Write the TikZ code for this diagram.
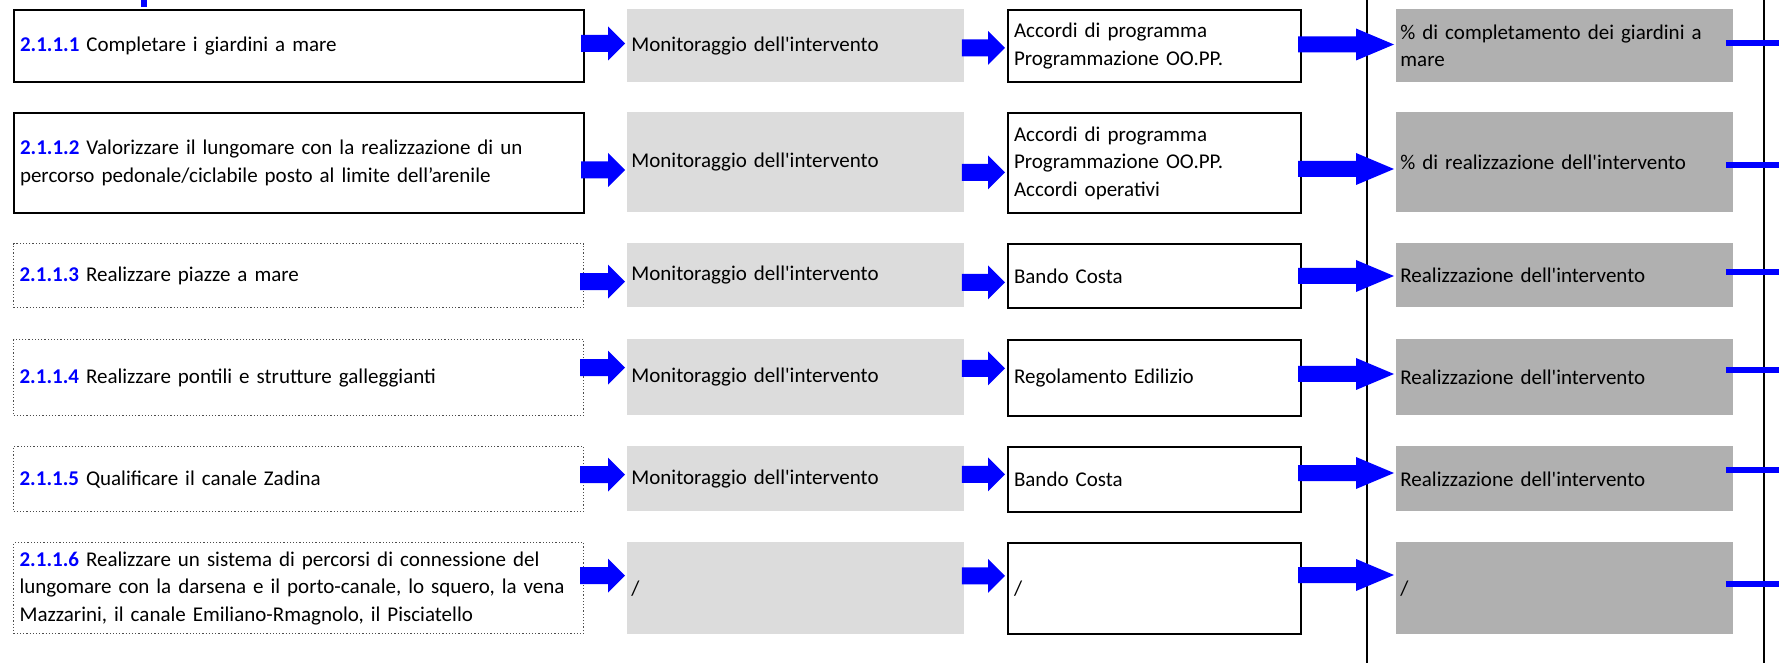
\documentclass[tikz,border=0pt]{standalone}
\usepackage{fontspec}
\newfontfamily\calib{Carlito}
\usepackage{tikz}
\usetikzlibrary{calc,positioning}
\definecolor{actgray}{RGB}{220,220,220}
\definecolor{indgray}{RGB}{176,176,176}
\newcommand{\objnum}[1]{\textcolor{blue}{\textbf{#1}}}

\begin{document}
\begin{tikzpicture}[x=0.5pt, y=-0.5pt,
  every node/.style={font=\calib\fontsize{10.5}{13.75}\selectfont, inner ysep=0pt, align=left, anchor=north west},
  goal/.style={text width=279pt, inner xsep=3pt},
  goalsolid/.style={goal, draw, line width=1pt},
  goaldot/.style={goal, draw=black!70, densely dotted, line width=0.6pt},
  act/.style={fill=actgray, text width=164.5pt, inner xsep=2pt},
  tool/.style={draw, line width=1pt, text width=140.5pt, inner xsep=3pt},
  ind/.style={fill=indgray, text width=164.5pt, inner xsep=2pt},
  % block arrow: half shaft, half head, head length
  blockto/.style n args={3}{to path={let \p1=(\tikztostart), \p2=(\tikztotarget) in
    (\x1,\y1+#1) -- (\x2-#3,\y1+#1) -- (\x2-#3,\y1+#2) -- (\x2,\y1)
    -- (\x2-#3,\y1-#2) -- (\x2-#3,\y1-#1) -- (\x1,\y1-#1) -- cycle}},
  arrow/.style={fill=blue, blockto={4.25pt}{8.5pt}{8.5pt}},
  longarrow/.style={fill=blue, blockto={4pt}{8pt}{19pt}},
  stub/.style={blue, line width=3pt},
  sep/.style={line width=1pt}
]
\useasboundingbox (0,0) rectangle (1779,663);

% column separators
\draw[sep] (1367,0) -- (1367,663);
\draw[sep] (1764,0) -- (1764,663);
\fill[blue] (141,0) rectangle (147,7);

% objectives
\node[goalsolid, minimum height=36pt] (g1) at (13,9) {\objnum{2.1.1.1} Completare i giardini a mare};
\node[goalsolid, minimum height=50pt] (g2) at (13,112) {\objnum{2.1.1.2} Valorizzare il lungomare con la realizzazione di un\\percorso pedonale/ciclabile posto al limite dell’arenile};
\node[goaldot, minimum height=32pt] (g3) at (13,243) {\objnum{2.1.1.3} Realizzare piazze a mare};
\node[goaldot, minimum height=38pt] (g4) at (13,339) {\objnum{2.1.1.4} Realizzare pontili e strutture galleggianti};
\node[goaldot, minimum height=32.5pt] (g5) at (13,446) {\objnum{2.1.1.5} Qualificare il canale Zadina};
\node[goaldot, minimum height=45.5pt] (g6) at (13,542) {\objnum{2.1.1.6} Realizzare un sistema di percorsi di connessione del\\lungomare con la darsena e il porto-canale, lo squero, la vena\\Mazzarini, il canale Emiliano-Rmagnolo, il Pisciatello};

% monitoring
\node[act, minimum height=36.5pt] (m1) at (627,9) {Monitoraggio dell'intervento};
\node[act, minimum height=50pt] (m2) at (627,112) {Monitoraggio dell'intervento};
\node[act, minimum height=32pt] (m3) at (627,243) {Monitoraggio dell'intervento};
\node[act, minimum height=38pt] (m4) at (627,339) {Monitoraggio dell'intervento};
\node[act, minimum height=32.5pt] (m5) at (627,446) {Monitoraggio dell'intervento};
\node[act, minimum height=46pt] (m6) at (627,542) {/};

% tools
\node[tool, minimum height=36pt] (t1) at (1007,9) {Accordi di programma\\Programmazione OO.PP.};
\node[tool, minimum height=50pt] (t2) at (1007,112) {Accordi di programma\\Programmazione OO.PP.\\Accordi operativi};
\node[tool, minimum height=32pt] (t3) at (1007,243) {Bando Costa};
\node[tool, minimum height=38pt] (t4) at (1007,339) {Regolamento Edilizio};
\node[tool, minimum height=32.5pt] (t5) at (1007,446) {Bando Costa};
\node[tool, minimum height=45.5pt] (t6) at (1007,542) {/};

% indicators
\node[ind, minimum height=36.5pt] (k1) at (1396,9) {\% di completamento dei giardini a\\mare};
\node[ind, minimum height=50pt] (k2) at (1396,112) {\% di realizzazione dell'intervento};
\node[ind, minimum height=32pt] (k3) at (1396,243) {Realizzazione dell'intervento};
\node[ind, minimum height=38pt] (k4) at (1396,339) {Realizzazione dell'intervento};
\node[ind, minimum height=32.5pt] (k5) at (1396,446) {Realizzazione dell'intervento};
\node[ind, minimum height=46pt] (k6) at (1396,542) {/};

% connectors
\foreach \i/\da/\db/\dc/\ds in {1/1.25/-1/0.75/1.5, 2/-3.5/-5/-3/-1.5, 3/-3/-3.5/0/1.5,
    4/5/4.5/2/3.5, 5/2.25/2.25/3.25/4.25, 6/6.25/6.25/6.75/2.25} {
  \path[arrow] ([xshift=-2pt, yshift=\da pt]g\i.east) to ([xshift=-1pt]m\i.west);
  \path[arrow] ([xshift=-1.5pt, yshift=\db pt]m\i.east) to ([xshift=-1pt]t\i.west);
  \path[longarrow] ([xshift=-2pt, yshift=\dc pt]t\i.east) to ([xshift=-1pt]k\i.west);
  \draw[stub] ([xshift=-4pt, yshift=\ds pt]k\i.east) -- +(28pt,0);
}
\end{tikzpicture}
\end{document}
